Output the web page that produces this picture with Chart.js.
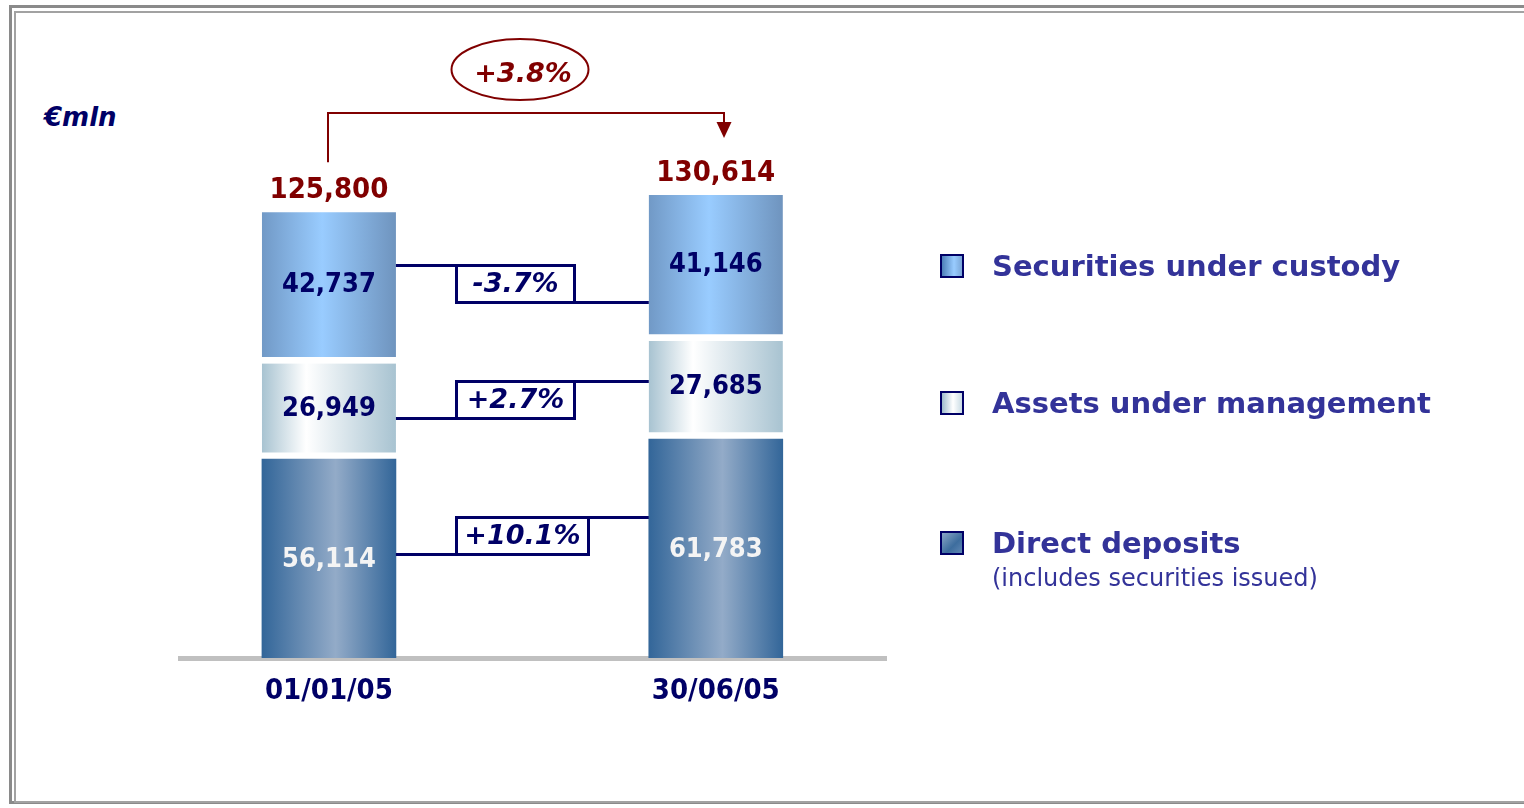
<!DOCTYPE html>
<html>
<head>
<meta charset="utf-8">
<script src="https://cdn.jsdelivr.net/npm/chart.js@4.4.1/dist/chart.umd.min.js"></script>
<style>
  html, body { margin: 0; padding: 0; background: #fff; }
  #wrap { position: relative; width: 1524px; height: 808px; overflow: hidden; font-family: 'DejaVu Sans', Verdana, sans-serif; }
  #chart { position: absolute; left: 0; top: 0; }
  .frame-out { position: absolute; left: 9px; top: 5px; width: 1540px; height: 799px; border: 3px solid #8a8a8a; box-sizing: border-box; }
  .frame-in { position: absolute; left: 14px; top: 11px; width: 1540px; height: 792px; border: 2px solid #a2a2a2; box-sizing: border-box; }
  #unit { position: absolute; left: 44px; top: 101px; font: italic bold 26px 'DejaVu Sans', sans-serif; color: #000066; line-height: 32px; }
  .leg { position: absolute; left: 940px; height: 30px; }
  .leg .sw { position: absolute; left: 0; top: 3px; width: 24px; height: 24px; box-sizing: border-box; border: 2px solid #000066; }
  .leg .txt { position: absolute; left: 52px; top: 0; white-space: nowrap; font: bold 29px 'DejaVu Sans', sans-serif; color: #333399; line-height: 30px; }
  .leg .sub { position: absolute; left: 52px; top: 36px; white-space: nowrap; font: 24px 'DejaVu Sans', sans-serif; color: #333399; line-height: 28px; }
</style>
</head>
<body>
<div id="wrap">
  <div class="frame-out"></div>
  <div class="frame-in"></div>
  <div id="unit">€mln</div>
  <canvas id="chart" width="1524" height="808"></canvas>
  <div class="leg" style="top:251px"><div class="sw" style="background:linear-gradient(90deg,#4d7fb8,#99ccff 60%,#7aa6d6)"></div><div class="txt">Securities under custody</div></div>
  <div class="leg" style="top:388px"><div class="sw" style="background:linear-gradient(90deg,#9fbccc,#ffffff 55%,#c9dbe4)"></div><div class="txt">Assets under management</div></div>
  <div class="leg" style="top:528px"><div class="sw" style="background:linear-gradient(135deg,#8aa6c6,#3d6d9e 60%,#5f87b3)"></div><div class="txt">Direct deposits</div><div class="sub">(includes securities issued)</div></div>
</div>
<script>
// ── data ─────────────────────────────────────────────────────────────────────
const DATES = ['01/01/05', '30/06/05'];
const DIRECT = [56114, 61783];
const AUM = [26949, 27685];
const CUSTODY = [42737, 41146];
const TOTALS = [125800, 130614];
const CHANGES = ['+10.1%', '+2.7%', '-3.7%'];   // direct, aum, custody
const TOTAL_CHANGE = '+3.8%';

// ── style ────────────────────────────────────────────────────────────────────
const NAVY = '#000066';
const DARK_RED = '#800000';
const BAR_W = 134;
const GAP = 7;
const BOX_DY = [-18, 3, 10];   // nudges for the change boxes, per dataset
const COND = "'DejaVu Sans Condensed', 'Liberation Sans Narrow', 'DejaVu Sans', sans-serif";
const fmt = v => v.toLocaleString('en-US');

const STOPS = {
  direct:  [[0, '#336699'], [0.55, '#93abc8'], [1, '#336699']],
  aum:     [[0, '#a8c3d1'], [0.33, '#ffffff'], [1, '#a8c3d1']],
  custody: [[0, '#7199c6'], [0.45, '#99ccff'], [1, '#6f94be']]
};

function gradient(stops) {
  return (c) => {
    const xs = c.chart.scales.x;
    if (!xs || c.dataIndex === undefined) return stops[1][1];
    const cx = xs.getPixelForValue(c.dataIndex);
    if (!Number.isFinite(cx)) return stops[1][1];
    const g = c.chart.ctx.createLinearGradient(cx - BAR_W / 2, 0, cx + BAR_W / 2, 0);
    stops.forEach(([o, col]) => g.addColorStop(o, col));
    return g;
  };
}

const toPoints = arr => arr.map((v, i) => ({ x: i, y: v }));

// ── labels, connectors and the total arrow ──────────────────────────────────
const overlay = {
  id: 'overlay',
  afterDatasetsDraw(chart) {
    const ctx = chart.ctx;
    const metas = [0, 1, 2].map(i => chart.getDatasetMeta(i));
    const gaps = [0, GAP, GAP];
    const mid = (el, g) => (el.y + el.base - g) / 2;
    ctx.save();

    // values inside the segments
    ctx.textAlign = 'center';
    ctx.textBaseline = 'middle';
    ctx.font = `bold 27px ${COND}`;
    metas.forEach((m, k) => {
      m.data.forEach((el, i) => {
        ctx.fillStyle = k === 0 ? '#f4f4f4' : NAVY;
        ctx.fillText(fmt(chart.data.datasets[k].data[i].y), el.x, mid(el, gaps[k]) + 1);
      });
    });

    // totals above the bars
    ctx.font = `bold 29px ${COND}`;
    ctx.fillStyle = DARK_RED;
    ctx.textBaseline = 'alphabetic';
    metas[2].data.forEach((el, i) => ctx.fillText(fmt(TOTALS[i]), el.x, el.y - 14));

    // change boxes between the bars
    ctx.font = "italic bold 27px 'DejaVu Sans', sans-serif";
    metas.forEach((m, k) => {
      const a = m.data[0], b = m.data[1];
      const yc = (mid(a, gaps[k]) + mid(b, gaps[k])) / 2 + BOX_DY[k];
      const top = Math.round(yc - 19) + 0.5, bot = top + 37;
      const tw = ctx.measureText(CHANGES[k]).width;
      const bx = Math.round(a.x + BAR_W / 2 + 60) + 0.5, bw = Math.round(Math.max(118, tw + 16));
      const up = CHANGES[k].startsWith('+');
      const yl = up ? bot : top, yr = up ? top : bot;
      ctx.strokeStyle = NAVY;
      ctx.lineWidth = 3;
      ctx.beginPath();
      ctx.moveTo(a.x + BAR_W / 2, yl); ctx.lineTo(bx, yl);
      ctx.moveTo(bx + bw, yr); ctx.lineTo(b.x - BAR_W / 2, yr);
      ctx.stroke();
      ctx.fillStyle = '#fff';
      ctx.fillRect(bx, top, bw, bot - top);
      ctx.strokeRect(bx, top, bw, bot - top);
      ctx.fillStyle = NAVY;
      ctx.textBaseline = 'middle';
      ctx.fillText(CHANGES[k], bx + bw / 2, (top + bot) / 2 + 1);
    });

    // total change bracket
    const t0 = metas[2].data[0], t1 = metas[2].data[1];
    const x0 = Math.round(t0.x - 1), x1 = Math.round(t1.x + 8);
    const yH = t1.y - 82, tip = t1.y - 57;
    ctx.strokeStyle = DARK_RED;
    ctx.fillStyle = DARK_RED;
    ctx.lineWidth = 2;
    ctx.beginPath();
    ctx.moveTo(x0, t0.y - 50); ctx.lineTo(x0, yH); ctx.lineTo(x1, yH); ctx.lineTo(x1, tip - 14);
    ctx.stroke();
    ctx.beginPath();
    ctx.moveTo(x1 - 7.5, tip - 16); ctx.lineTo(x1 + 7.5, tip - 16); ctx.lineTo(x1, tip);
    ctx.closePath();
    ctx.fill();
    const ex = (x0 + x1) / 2 - 6, ey = yH - 43.5;
    ctx.beginPath();
    ctx.ellipse(ex, ey, 68.5, 30.5, 0, 0, Math.PI * 2);
    ctx.stroke();
    ctx.font = "italic bold 27px 'DejaVu Sans', sans-serif";
    ctx.textBaseline = 'middle';
    ctx.fillText(TOTAL_CHANGE, ex + 3, ey + 5);
    ctx.restore();
  }
};

new Chart(document.getElementById('chart'), {
  type: 'bar',
  data: {
    datasets: [
      { label: 'Direct deposits', data: toPoints(DIRECT), backgroundColor: gradient(STOPS.direct), borderWidth: 0 },
      { label: 'Assets under management', data: toPoints(AUM), backgroundColor: gradient(STOPS.aum),
        borderColor: '#ffffff', borderSkipped: false, borderWidth: { top: 0, left: 0, right: 0, bottom: GAP } },
      { label: 'Securities under custody', data: toPoints(CUSTODY), backgroundColor: gradient(STOPS.custody),
        borderColor: '#ffffff', borderSkipped: false, borderWidth: { top: 0, left: 0, right: 0, bottom: GAP } }
    ]
  },
  options: {
    responsive: false,
    animation: false,
    devicePixelRatio: 1,
    barThickness: BAR_W,
    layout: { padding: { left: 180, right: 638, top: 98, bottom: 90 } },
    plugins: { legend: { display: false }, tooltip: { enabled: false } },
    scales: {
      x: {
        type: 'linear', stacked: true, offset: false, min: -0.385, max: 1.44,
        afterBuildTicks: s => { s.ticks = DATES.map((_, i) => ({ value: i })); },
        afterFit: s => { s.height = 60; },
        grid: { display: false, drawTicks: false, offset: false },
        border: { display: true, color: '#c0c0c0', width: 5 },
        ticks: {
          autoSkip: false, maxRotation: 0, padding: 16, color: NAVY,
          font: { family: COND, size: 29, weight: 'bold' },
          callback: v => DATES[v]
        }
      },
      y: { display: false, stacked: true, min: 0, max: 158000 }
    }
  },
  plugins: [overlay]
});
</script>
</body>
</html>
